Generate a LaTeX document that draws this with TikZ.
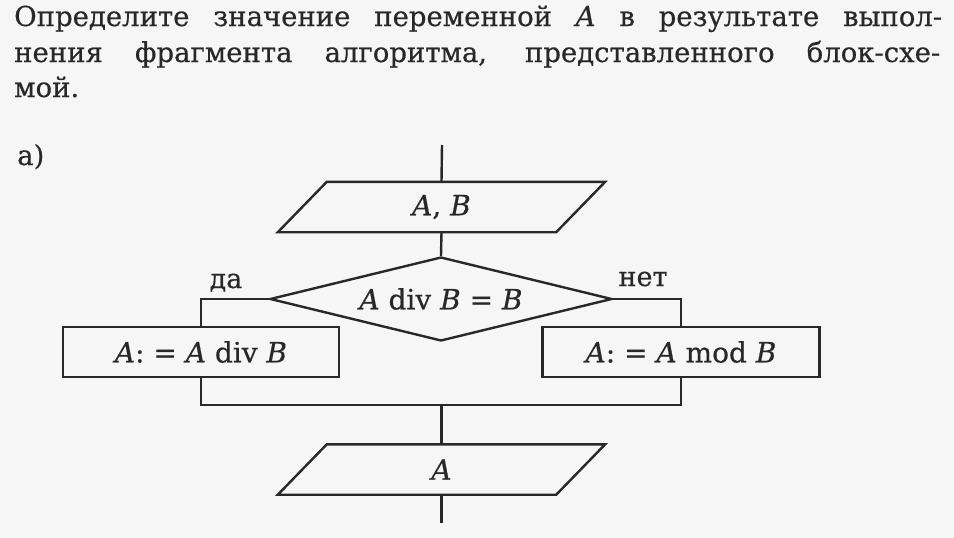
\documentclass[tikz,border=0pt]{standalone}
\usepackage{fontspec}
\setmainfont{DejaVu Serif}[UprightFeatures={FakeBold=0.5},ItalicFeatures={FakeBold=0.5}]
\usetikzlibrary{shapes.geometric}
\definecolor{ink}{RGB}{40,40,40}
\definecolor{paper}{RGB}{246,246,246}
\begin{document}
\begin{tikzpicture}[x=1pt,y=-1pt,
  line/.style={draw=ink, line width=2.4pt},
  title/.style={anchor=base west, inner sep=0pt, text=ink, font=\fontsize{27.5}{32}\selectfont},
  lbl/.style={anchor=base, inner sep=0pt, text=ink, font=\fontsize{27}{30}\selectfont},
  io/.style={rectangle, minimum width=327pt, minimum height=50pt,
    inner sep=0pt, text=ink, font=\fontsize{28}{30}\selectfont},
  decision/.style={diamond, aspect=4, minimum width=342pt, minimum height=84pt,
    inner sep=0pt, draw=ink, line width=2.4pt, text=ink, font=\fontsize{28}{30}\selectfont},
  proc/.style={rectangle, minimum width=276pt, minimum height=50pt,
    inner sep=0pt, draw=ink, line width=2.4pt, text=ink, font=\fontsize{28}{30}\selectfont}
]
\fill[paper] (0,0) rectangle (954,538);
\useasboundingbox (0,0) rectangle (954,538);

\node[title] (t1) at (14,26) {\makebox[928pt][s]{Определите значение переменной \textit{A} в результате выпол-}};
\node[title] (t2) at (14,62) {\makebox[926pt][s]{нения фрагмента алгоритма, представленного блок-схе-}};
\node[title] (t3) at (14,97) {мой.};
\node[title] (ta) at (17,165) {а)};

\coordinate (start) at (442,145);
\node[io] (inAB) at (441.5,207) {\textit{A}, \textit{B}};
\draw[line, line join=miter] ([xshift=49pt]inAB.north west) -- (inAB.north east)
  -- ([xshift=-49pt]inAB.south east) -- (inAB.south west) -- cycle;
\node[decision] (cond) at (441,299) {\textit{A} div \textit{B} = \textit{B}};
\node[proc] (yes) at (201,352) {\textit{A}: = \textit{A} div \textit{B}};
\node[proc, minimum width=277pt] (no) at (681,352) {\textit{A}: = \textit{A} mod \textit{B}};
\coordinate (merge) at (441.5,405);
\node[io] (outA) at (441.5,469.5) {\textit{A}};
\draw[line, line join=miter] ([xshift=49pt]outA.north west) -- (outA.north east)
  -- ([xshift=-49pt]outA.south east) -- (outA.south west) -- cycle;
\coordinate (finish) at (441.5,523);

\node[lbl] (da) at (226,288) {да};
\node[lbl] (net) at (643,286) {нет};

\draw[line] (start) -- (inAB.north);
\draw[line] (inAB.south) -- (cond.north);
\draw[line] (cond.west) -| (yes.north);
\draw[line] (cond.east) -| (no.north);
\draw[line] (yes.south) |- (merge) -| (no.south);
\draw[line] (merge) -- (outA.north);
\draw[line] (outA.south) -- (finish);
\end{tikzpicture}
\end{document}
